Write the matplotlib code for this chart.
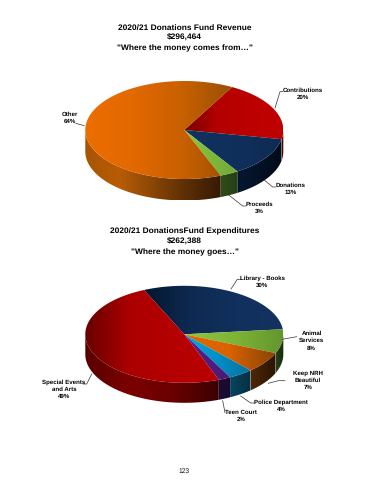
import numpy as np
import matplotlib
matplotlib.use('Agg')
import matplotlib.pyplot as plt
from matplotlib.colors import LinearSegmentedColormap
from matplotlib.patches import Polygon

plt.rcParams['font.family'] = ['Liberation Sans', 'DejaVu Sans']
plt.rcParams['text.hinting'] = 'none'

REVENUE_TITLE = ['2020/21 Donations Fund Revenue', '$296,464', '"Where the money comes from…"']
REVENUE_LABELS = ['Contributions', 'Donations', 'Proceeds', 'Other']
REVENUE_VALUES = [20, 13, 3, 64]

EXPENSE_TITLE = ['2020/21 DonationsFund Expenditures', '$262,388', '"Where the money goes…"']
EXPENSE_LABELS = ['Library - Books', 'Animal\nServices', 'Keep NRH\nBeautiful',
                  'Police Department', 'Teen Court', 'Special Events\nand Arts']
EXPENSE_VALUES = [30, 8, 7, 4, 2, 49]

# gradient stops left to right, top face then wall
REVENUE_TOPS = [
    ['#760000', '#b40000', '#bc0000', '#c00000'],
    ['#12305e', '#10305c', '#0f2b54'],
    ['#8cc63f', '#70aa36'],
    ['#ec6e00', '#e26800', '#c86000', '#9a5004'],
]
REVENUE_WALLS = [
    ['#5a0000', '#400000'],
    ['#051730', '#020c1a'],
    ['#2f4c1a', '#263f16'],
    ['#a85404', '#b85c05', '#8a4605', '#5c2e04', '#361a04'],
]
EXPENSE_TOPS = [
    ['#03162e', '#0e2a52', '#12305e', '#14325f'],
    ['#8cc63f', '#7fb538', '#64962e'],
    ['#e66800', '#d86200', '#8a4305'],
    ['#00a8e4', '#0090c8', '#0a6e9c'],
    ['#5a1f8a', '#4a1a72'],
    ['#680000', '#ac0000', '#b40000', '#bc0000'],
]
EXPENSE_WALLS = [
    ['#0a2040', '#0a2040'],
    ['#26401a', '#18280c'],
    ['#4e2604', '#2a1504'],
    ['#07465f', '#052f42'],
    ['#1d0c36', '#180a2c'],
    ['#580000', '#7c0000', '#6a0000', '#3a0000'],
]

# label position, leader line, in pixels of the page
REVENUE_NOTES = [
    ((302.7, 93.7), [(275, 108), (280, 91.7), (283, 91.7)]),
    ((290.3, 189.2), [(264.3, 180), (272.7, 187), (275.7, 187)]),
    ((259.7, 207.8), [(228.7, 195), (242.7, 206), (246, 206)]),
    ((69.7, 117.5), [(75.7, 123.3), (84.3, 125.7)]),
]
EXPENSE_NOTES = [
    ((262.3, 281.5), [(231, 289), (237.3, 279.3), (240.7, 279.3)]),
    ((311.7, 340.7), [(282.3, 339.3), (296.7, 336.7)]),
    ((307.7, 380.7), [(268.3, 383.3), (278.3, 380.7), (285, 380.7)]),
    ((281, 405.8), [(240.7, 396), (250.7, 403), (254, 403)]),
    ((241, 415.8), [(222.7, 400.7), (225, 412.7)]),
    ((64, 389), [(91.7, 374), (86.7, 384), (83.3, 384)]),
]


def gradient_fill(ax, pts, stops, zorder):
    xs, ys = pts[:, 0], pts[:, 1]
    cmap = LinearSegmentedColormap.from_list('g', stops)
    im = ax.imshow(np.linspace(0, 1, 128)[None, :], cmap=cmap, aspect='auto', interpolation='bilinear',
                   extent=(xs.min(), xs.max(), ys.max(), ys.min()), zorder=zorder)
    poly = Polygon(pts, closed=True, transform=ax.transData, fc='none', ec='none')
    ax.add_patch(poly)
    im.set_clip_path(poly)


def draw_pie(ax, cx, cy, rx, ry, depth, start, values, tops, walls):
    edges = start + np.cumsum([0] + values) * 3.6
    for i in range(len(values)):
        a0, a1 = edges[i], edges[i + 1]
        t = np.radians(np.linspace(a0, a1, 200))
        arc = np.column_stack([cx + rx * np.sin(t), cy - ry * np.cos(t)])
        top = np.vstack([[cx, cy], arc])

        # outer wall, only the front half shows
        lo, hi = max(a0, 90), min(a1, 270)
        if hi > lo:
            t = np.radians(np.linspace(lo, hi, 200))
            front = np.column_stack([cx + rx * np.sin(t), cy - ry * np.cos(t)])
            wall = np.vstack([front, (front + [0, depth])[::-1]])
            gradient_fill(ax, wall, walls[i], 2)
        gradient_fill(ax, top, tops[i], 3)


def notes(ax, labels, values, placed):
    for lab, val, (pos, line) in zip(labels, values, placed):
        rows = f'{lab}\n{val}%'.split('\n')
        for k, row in enumerate(rows):
            ax.text(pos[0], pos[1] + (k - (len(rows) - 1) / 2) * 7.2, row, ha='center', va='center',
                    fontsize=4.4, fontweight='bold', color='#000000', zorder=5)
        ax.plot([p[0] for p in line], [p[1] for p in line], color='#333333', lw=0.5, zorder=4)


def title(ax, rows, ys):
    for row, y in zip(rows, ys):
        ax.text(184.5, y, row, ha='center', va='center', fontsize=6.05, fontweight='bold', color='#000000')


fig = plt.figure(figsize=(3.7, 4.8), dpi=100)
ax = fig.add_axes([0, 0, 1, 1])

draw_pie(ax, 184.3, 130, 99, 49, 21.5, 28.8, REVENUE_VALUES, REVENUE_TOPS, REVENUE_WALLS)
draw_pie(ax, 184.3, 334.3, 99, 48.5, 20, -24, EXPENSE_VALUES, EXPENSE_TOPS, EXPENSE_WALLS)

notes(ax, REVENUE_LABELS, REVENUE_VALUES, REVENUE_NOTES)
notes(ax, EXPENSE_LABELS, EXPENSE_VALUES, EXPENSE_NOTES)

title(ax, REVENUE_TITLE, [27.3, 38, 48.3])
title(ax, EXPENSE_TITLE, [231.7, 241.9, 252.3])
ax.text(184.5, 471.5, '123', ha='center', va='center', fontsize=4.8, color='#111111')

ax.set_xlim(0, 370)
ax.set_ylim(480, 0)
ax.axis('off')
fig.savefig('out.png', dpi=100, facecolor='white')
